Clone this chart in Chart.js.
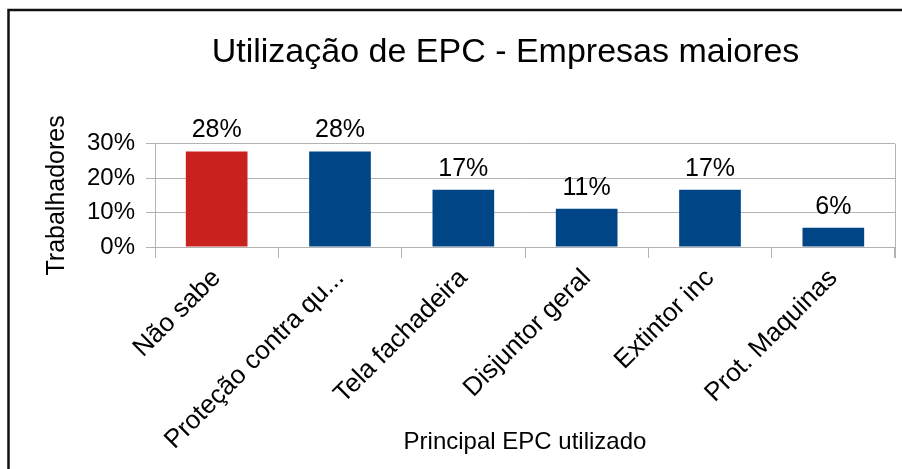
<!DOCTYPE html>
<html>
<head>
<meta charset="utf-8">
<script src="https://cdn.jsdelivr.net/npm/chart.js@4"></script>
<style>
  html, body { margin: 0; padding: 0; background: #ffffff; }
  #wrap { width: 902px; height: 469px; position: relative; }
</style>
</head>
<body>
<div id="wrap"><canvas id="c" width="902" height="469"></canvas></div>
<script>
const categories = ["Não sabe", "Proteção contra qu...", "Tela fachadeira", "Disjuntor geral", "Extintor inc", "Prot. Maquinas"];
const values = [27.78, 27.78, 16.67, 11.11, 16.67, 5.56];
const yTickLabels = ["0%", "10%", "20%", "30%"];
const chartTitle = "Utilização de EPC - Empresas maiores";
const xTitle = "Principal EPC utilizado";
const yTitle = "Trabalhadores";

const RED = "#C9211E";
const BLUE = "#004586";
const GRID = "#b3b3b3";
const FONT = "'Liberation Sans', Arial, sans-serif";

const framePlugin = {
  id: "frame",
  afterLayout(chart) {
    if (chart.titleBlock) { chart.titleBlock.left = 116; }
  },
  afterDraw(chart) {
    const ctx = chart.ctx;
    const a = chart.chartArea;
    ctx.save();
    ctx.strokeStyle = GRID;
    ctx.lineWidth = 1;
    ctx.beginPath();
    ctx.moveTo(Math.round(a.right) + 0.5, a.top);
    ctx.lineTo(Math.round(a.right) + 0.5, a.bottom + 11);
    ctx.stroke();
    ctx.strokeStyle = "#111111";
    ctx.lineWidth = 2.5;
    ctx.beginPath();
    ctx.moveTo(8.5, 480);
    ctx.lineTo(8.5, 10);
    ctx.lineTo(910, 10);
    ctx.stroke();
    ctx.restore();
  }
};

const labelPlugin = {
  id: "valueLabels",
  afterDatasetsDraw(chart) {
    const ctx = chart.ctx;
    const meta = chart.getDatasetMeta(0);
    ctx.save();
    ctx.font = "25px " + FONT;
    ctx.fillStyle = "#000000";
    ctx.textAlign = "center";
    ctx.textBaseline = "middle";
    meta.data.forEach((bar, i) => {
      const v = chart.data.datasets[0].data[i];
      ctx.fillText(Math.round(v) + "%", bar.x, bar.y - 21);
    });
    ctx.restore();
  }
};

new Chart(document.getElementById("c"), {
  type: "bar",
  data: {
    labels: categories,
    datasets: [{
      data: values,
      backgroundColor: values.map((v, i) => i === 0 ? RED : BLUE),
      borderWidth: 0,
      barPercentage: 0.5,
      categoryPercentage: 1.0
    }]
  },
  options: {
    responsive: false,
    animation: false,
    layout: { padding: { left: 0, right: 7, top: 0, bottom: 0 } },
    plugins: {
      legend: { display: false },
      tooltip: { enabled: false },
      title: {
        display: true,
        text: chartTitle,
        color: "#000000",
        font: { family: FONT, size: 34, weight: "normal" },
        padding: { top: 32, bottom: 71 }
      }
    },
    scales: {
      x: {
        offset: true,
        grid: { display: true, drawOnChartArea: false, color: GRID, tickLength: 11, offset: true },
        border: { display: true, color: GRID },
        ticks: {
          color: "#000000",
          font: { family: FONT, size: 26 },
          maxRotation: 45,
          minRotation: 45,
          autoSkip: false,
          padding: 5
        },
        title: {
          display: true,
          text: xTitle,
          color: "#000000",
          font: { family: FONT, size: 24 },
          padding: { top: 0, bottom: 12 }
        },
        afterFit(scale) { scale.height = 222; }
      },
      y: {
        min: 0,
        max: 30,
        grid: { color: GRID, tickLength: 9 },
        border: { display: true, color: GRID },
        ticks: {
          stepSize: 5,
          color: "#000000",
          font: { family: FONT, size: 24 },
          padding: 11,
          callback(v) {
            const idx = yTickLabels.indexOf(v + "%");
            return idx >= 0 ? yTickLabels[idx] : "";
          }
        },
        title: {
          display: true,
          text: yTitle,
          color: "#000000",
          font: { family: FONT, size: 25 },
          padding: { top: 42, bottom: 0 }
        },
        afterFit(scale) { scale.width = 155; }
      }
    }
  },
  plugins: [framePlugin, labelPlugin]
});
</script>
</body>
</html>
